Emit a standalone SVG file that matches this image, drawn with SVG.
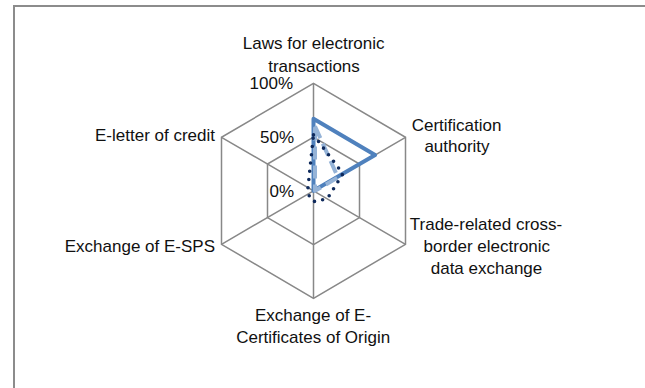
<svg xmlns="http://www.w3.org/2000/svg" width="645" height="388" viewBox="0 0 645 388">
  <style>
    .lbl { font-family: "Liberation Sans", Arial, sans-serif; font-size: 17px; fill: #111; }
    .mid { text-anchor: middle; }
    .end { text-anchor: end; }
    .grid { fill: none; stroke: #888; stroke-width: 1.5; }
  </style>
  <rect x="0" y="0" width="645" height="388" fill="#fff"/>
  <rect x="14" y="6" width="700" height="420" fill="none" stroke="#8c8c8c" stroke-width="2"/>

  <g id="grid">
    <polygon class="grid" points="313.5,83.3 405.5,137.3 405.5,244.3 313.5,298.3 221.5,244.3 221.5,137.3"/>
    <polygon class="grid" points="313.5,137.05 359.5,164 359.5,217.6 313.5,244.55 267.5,217.6 267.5,164"/>
    <path class="grid" d="M313.5,190.8 L313.5,83.3 M313.5,190.8 L405.5,137.3 M313.5,190.8 L405.5,244.3 M313.5,190.8 L313.5,298.3 M313.5,190.8 L221.5,244.3 M313.5,190.8 L221.5,137.3"/>
  </g>

  <g id="scale-labels">
    <text class="lbl end" x="293" y="88.5">100%</text>
    <text class="lbl end" x="294" y="143">50%</text>
    <text class="lbl end" x="294" y="196.7">0%</text>
  </g>

  <g id="axis-laws">
    <text class="lbl mid" x="313.7" y="49.3">Laws for electronic</text>
    <text class="lbl mid" x="314" y="71.5">transactions</text>
  </g>
  <g id="axis-certification">
    <text class="lbl mid" x="456.6" y="130.5">Certification</text>
    <text class="lbl mid" x="457" y="152">authority</text>
  </g>
  <g id="axis-trade">
    <text class="lbl mid" x="486" y="229.5">Trade-related cross-</text>
    <text class="lbl mid" x="486.8" y="251.7">border electronic</text>
    <text class="lbl mid" x="486.5" y="274">data exchange</text>
  </g>
  <g id="axis-origin">
    <text class="lbl mid" x="313" y="320.7">Exchange of E-</text>
    <text class="lbl mid" x="313.2" y="342.7">Certificates of Origin</text>
  </g>
  <g id="axis-sps">
    <text class="lbl end" x="215" y="251.7">Exchange of E-SPS</text>
  </g>
  <g id="axis-letter">
    <text class="lbl end" x="215" y="140.5">E-letter of credit</text>
  </g>

  <g id="connectors">
    <polygon id="series-solid" points="313.5,118.8 375.1,155 313.5,190.8 313.5,190.8 313.5,190.8 313.5,190.8" fill="none" stroke="#4f81bd" stroke-width="4" stroke-linejoin="round"/>
    <polygon id="series-dashed" transform="translate(1.5,0)" points="313.5,126.3 336.5,177.4 313.5,190.8 313.5,190.8 313.5,190.8 313.5,190.8" fill="none" stroke="#95b3d7" stroke-width="4" stroke-dasharray="13 6" stroke-linejoin="round"/>
    <polygon id="series-dotted" points="313.5,134.9 342.9,173.7 327.3,198.8 313.5,201.6 308,194 308,187.6" fill="none" stroke="#0f2a5c" stroke-width="3.6" stroke-dasharray="0 8.3" stroke-linecap="round" stroke-linejoin="round"/>
  </g>
</svg>
